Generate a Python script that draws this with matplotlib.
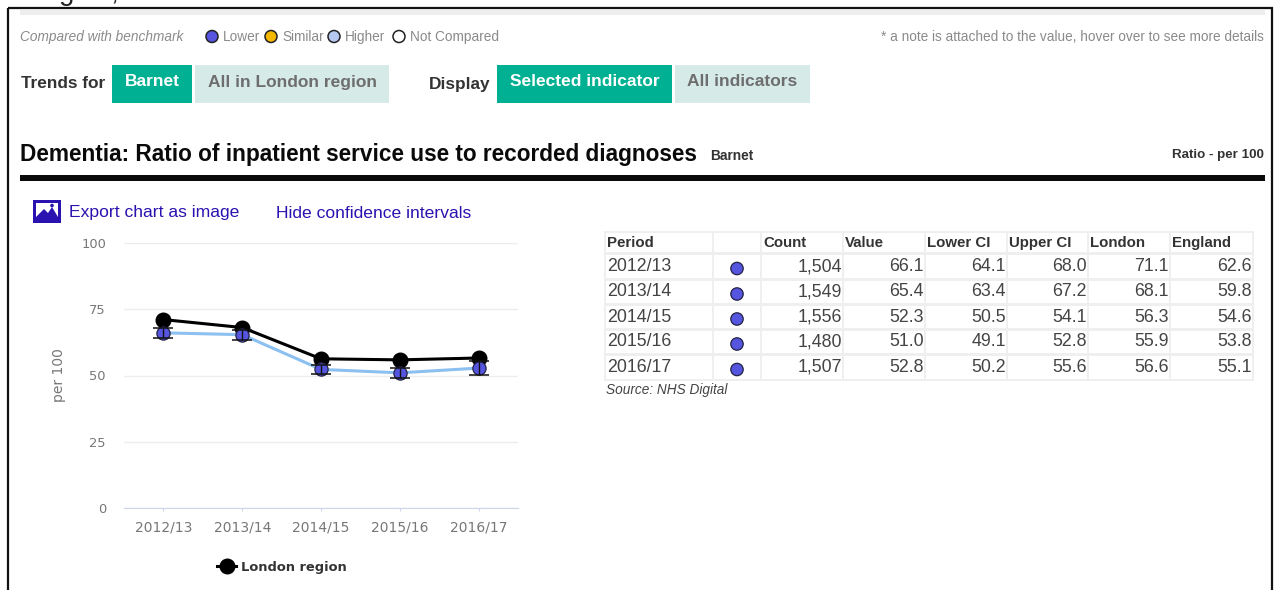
#!/usr/bin/env python3
"""Dementia inpatient ratio panel: header strip, trend chart and data table."""
import matplotlib
matplotlib.use("Agg")
import matplotlib.pyplot as plt
from matplotlib.patches import Circle, Polygon, Rectangle

plt.rcParams["font.family"] = ["Liberation Sans", "DejaVu Sans"]

PERIODS = ["2012/13", "2013/14", "2014/15", "2015/16", "2016/17"]
COUNT = [1504, 1549, 1556, 1480, 1507]
VALUE = [66.1, 65.4, 52.3, 51.0, 52.8]
LOWER = [64.1, 63.4, 50.5, 49.1, 50.2]
UPPER = [68.0, 67.2, 54.1, 52.8, 55.6]
LONDON = [71.1, 68.1, 56.3, 55.9, 56.6]
ENGLAND = [62.6, 59.8, 54.6, 53.8, 55.1]
Y_TICKS = [0, 25, 50, 75, 100]
HEADERS = ["Period", "", "Count", "Value", "Lower CI", "Upper CI", "London", "England"]

TEAL, PALE, BLUE, LINK = "#00B092", "#D6EBE7", "#5555E0", "#2A12B0"
DARK, GREY = "#333333", "#8A8A8A"

fig = plt.figure(figsize=(12.8, 5.9), dpi=100, facecolor="white")

# overlay in image pixels for the page furniture
pg = fig.add_axes([0, 0, 1, 1])
pg.set_xlim(0, 1280); pg.set_ylim(590, 0); pg.axis("off")

def px(x, y, s, size=10, color=DARK, **kw):
    kw.setdefault("va", "center")
    pg.text(x, y, s, fontsize=size, color=color, **kw)

def box(x0, y0, x1, y1, col, **kw):
    pg.add_patch(Rectangle((x0, y0), x1 - x0, y1 - y0, facecolor=col, edgecolor="none", **kw))

# ---------------------------------------------------- frame + top strip
pg.add_patch(Rectangle((8, 8), 1264, 590, facecolor="none", edgecolor="#111111", lw=1.6))
box(20, 10, 1265, 15, "#EEEEEE")
px(59, -7, "g", 20, "#222222")
px(110, -7, ",", 20, "#222222")

# ---------------------------------------------------- benchmark key
px(20, 37, "Compared with benchmark", 9.8, GREY, style="italic")
for cx, col, tx, lbl in [(212, BLUE, 223, "Lower"), (271, "#F5B800", 282, "Similar"),
                         (334, "#B4C8F0", 345, "Higher"), (399, "white", 410, "Not Compared")]:
    pg.add_patch(Circle((cx, 36.5), 6, facecolor=col, edgecolor="#222222", lw=1.1))
    px(tx, 37, lbl, 9.8, GREY)
px(1264, 37, "* a note is attached to the value, hover over to see more details", 9.8, GREY, ha="right")

# ---------------------------------------------------- buttons
px(21, 84, "Trends for", 12.4, DARK, fontweight="bold")
px(429, 85, "Display", 12.4, DARK, fontweight="bold")
for x0, x1, col, tc, lbl in [(112, 192, TEAL, "white", "Barnet"),
                             (195, 389, PALE, "#6E6E6E", "All in London region"),
                             (497, 672, TEAL, "white", "Selected indicator"),
                             (675, 810, PALE, "#6E6E6E", "All indicators")]:
    box(x0, 65, x1, 103, col)
    px((x0 + x1) / 2, 82, lbl, 12.5, tc, ha="center", fontweight="bold")

# ---------------------------------------------------- title
px(20, 154, "Dementia: Ratio of inpatient service use to recorded diagnoses", 16.3, "#0A0A0A",
   fontweight="bold")
px(710, 156, "Barnet", 9.9, DARK, fontweight="bold")
px(1264, 155, "Ratio - per 100", 9.6, DARK, ha="right", fontweight="bold")
box(20, 175, 1265, 181, "#0A0A0A")

# ---------------------------------------------------- links
box(33, 200, 61, 223, LINK)
box(36, 203, 58, 217, "white")
pg.add_patch(Polygon([(36, 217), (44, 209), (48, 213), (52, 207), (58, 217)], facecolor=LINK, edgecolor="none"))
pg.add_patch(Circle((52, 205.5), 1.8, facecolor=LINK, edgecolor="none"))
px(69, 213, "Export chart as image", 12.6, LINK)
px(276, 213, "Hide confidence intervals", 12.6, LINK)

# ---------------------------------------------------- trend chart
W, H = 1280.0, 590.0
ax = fig.add_axes([124 / W, 1 - 508 / H, 394 / W, 265 / H])
ax.patch.set_alpha(0)
xs = list(range(len(PERIODS)))
ax.plot(xs, VALUE, "-", color="#8CC0F0", lw=2.2, zorder=2)
ax.errorbar(xs, VALUE, yerr=[[v - l for v, l in zip(VALUE, LOWER)], [u - v for v, u in zip(VALUE, UPPER)]],
            fmt="none", ecolor="#111111", elinewidth=1, capsize=7.2, capthick=1.1, zorder=5)
ax.plot(xs, LONDON, "-o", color="black", lw=2.2, ms=10.5, zorder=3, label="London region")
ax.plot(xs, VALUE, "o", color=BLUE, mec="#222244", mew=0.9, ms=9.5, zorder=4)
ax.set_xlim(-0.5, 4.5); ax.set_ylim(0, 100)
ax.set_xticks(xs); ax.set_xticklabels(PERIODS)
ax.set_yticks(Y_TICKS)
ax.grid(axis="y", color="#EDEDED", lw=1)
ax.set_axisbelow(True)
for s in ["top", "right", "left"]:
    ax.spines[s].set_visible(False)
ax.spines["bottom"].set_color("#CCD6EB")
ax.tick_params(axis="y", length=0, pad=13, labelsize=9.4, labelcolor="#777777", labelfontfamily="DejaVu Sans")
ax.tick_params(axis="x", length=2, color="#CCD6EB", pad=7, labelsize=10, labelcolor="#777777",
               labelfontfamily="DejaVu Sans")
ax.set_ylabel("per 100", fontsize=10, color="#777777", family="DejaVu Sans", labelpad=11)
leg = fig.legend(loc="center", bbox_to_anchor=(282 / W, 1 - 567 / H), frameon=False, handlelength=1.4,
                 handletextpad=0.4, prop={"family": "DejaVu Sans", "weight": "bold", "size": 9.4})
leg.get_texts()[0].set_color(DARK)

# ---------------------------------------------------- data table
COL_L = [606, 714, 762, 844, 926, 1008, 1089, 1171]
COL_R = [712, 760, 842, 924, 1006, 1087, 1169, 1252]
ROW_T = [233, 255, 281, 306, 331, 356]
ROW_B = [252, 278, 303, 328, 353, 379]
box(604, 231, 1254, 381, "#EFEFEF")
for t, b in zip(ROW_T, ROW_B):
    for l, r in zip(COL_L, COL_R):
        box(l, t, r, b, "white")
for i, h in enumerate(HEADERS):
    px(COL_L[i] + 1, 243, h, 10.8, DARK, fontweight="bold")
for r, p in enumerate(PERIODS):
    y = (ROW_T[r + 1] + ROW_B[r + 1]) / 2
    px(607, y, p, 12.8, "#444444")
    pg.add_patch(Circle((737, y + 2), 6.2, facecolor=BLUE, edgecolor="#222244", lw=0.9))
    cells = [f"{COUNT[r]:,}", f"{VALUE[r]:.1f}", f"{LOWER[r]:.1f}", f"{UPPER[r]:.1f}",
             f"{LONDON[r]:.1f}", f"{ENGLAND[r]:.1f}"]
    for c, s in enumerate(cells):
        px(COL_R[c + 2], y, s, 12.8, "#444444", ha="right")
px(606, 390, "Source: NHS Digital", 9.8, "#444444", style="italic")

fig.savefig("out.png", dpi=100)
